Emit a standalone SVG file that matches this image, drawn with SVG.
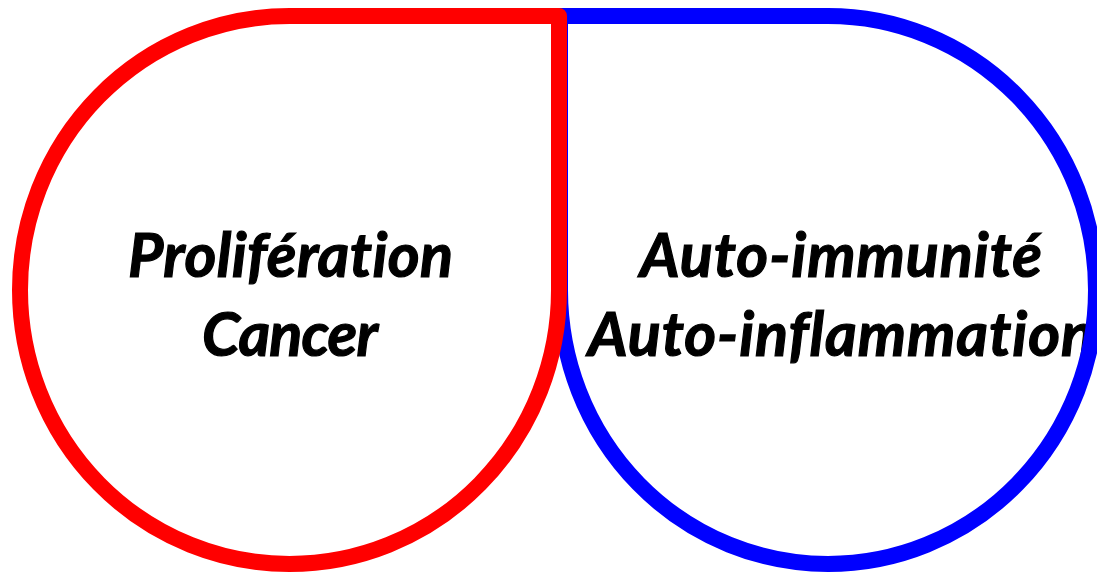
<svg xmlns="http://www.w3.org/2000/svg" width="1097" height="572" viewBox="0 0 1097 572">
  <style>
    .lobe { fill: none; stroke-width: 16; stroke-linejoin: round; }
    .red { stroke: #ff0000; }
    .blue { stroke: #0000ff; }
    .label { font-family: Lato, "Open Sans", "Liberation Sans", sans-serif; font-weight: bold; font-style: italic; font-size: 61px; fill: #000000; stroke: #000000; stroke-width: 1.2; text-anchor: middle; font-variant-ligatures: none; font-feature-settings: "liga" 0, "dlig" 0; }
  </style>
  <rect width="1097" height="572" fill="#ffffff"/>

  <!-- right lobe: auto-immunity / auto-inflammation -->
  <g id="node-autoimmunite">
    <text class="label" x="841" y="277" textLength="402">Auto-immunité</text>
    <text class="label" x="841" y="356" textLength="506">Auto-inflammation</text>
    <path class="lobe blue" d="M 560 290 V 16 H 828 A 268 274 0 1 1 560 290 Z"/>
  </g>

  <!-- left lobe: proliferation / cancer -->
  <g id="node-proliferation">
    <text class="label" x="290.5" y="277" textLength="325">Prolifération</text>
    <text class="label" x="290" y="356" textLength="176">Cancer</text>
    <path class="lobe red" d="M 289.5 16 H 559 V 290 A 269.5 274 0 1 1 289.5 16 Z"/>
  </g>
</svg>
